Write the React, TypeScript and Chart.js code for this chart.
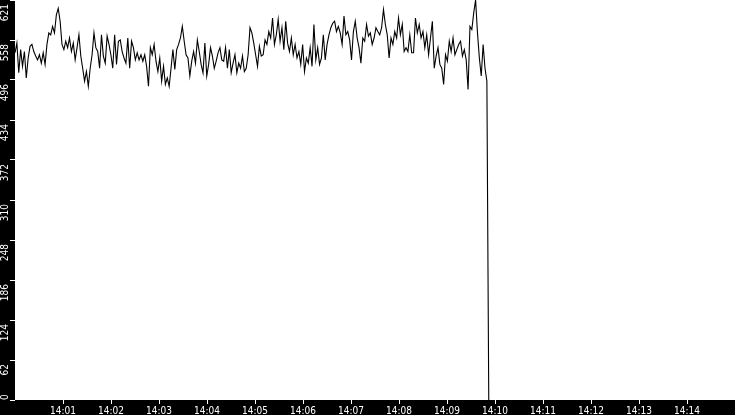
import { useEffect, useRef } from "react";
import { Chart, registerables } from "chart.js";
import type { Plugin } from "chart.js";

Chart.register(...registerables);

// ─── data ────────────────────────────────────────────────────────
const START_HOUR = 14;
const STEP_SEC = 2.35;     // spacing between samples, seconds from 14:00:00
const X_MAX_SEC = 900;     // 14:00 → 14:15
const Y_MAX = 621;
const Y_TICK_COUNT = 10;

const SERIES = [
  539, 554, 508, 544, 518, 541, 500, 531, 549, 552, 541, 534, 528, 536, 523, 539, 521, 552, 570, 567,
  580, 570, 598, 608, 588, 552, 544, 557, 547, 562, 541, 554, 528, 547, 567, 534, 515, 495, 510, 487,
  515, 536, 570, 547,
  541, 515, 567, 534, 523, 565, 552, 536, 515, 567, 521, 557, 559, 541, 531, 523, 562, 515, 557, 547,
  528, 539, 528, 536, 526, 536, 518, 487, 547, 536, 552, 526, 510, 531, 495, 518, 490, 500, 487, 515,
  544,
  513, 544, 552, 562, 580, 557, 536, 531, 503, 526, 541, 523, 559, 541, 521, 508, 554, 503, 521, 547,
  534, 515, 526, 539, 547, 528, 526, 547, 515, 544, 508, 523, 536, 508, 523, 515, 534, 510, 515, 536,
  578, 570, 554,
  536, 518, 549, 534, 536, 559, 552, 572, 562, 593, 552, 567, 591, 557, 578, 544, 588, 554, 541, 562,
  536, 552, 531, 541, 521, 552, 510, 531, 523, 547, 518, 583, 528, 547, 521, 531, 567, 528, 552, 567,
  578, 585,
  588, 572, 580, 570, 552, 596, 567, 572, 559, 528, 572, 588, 562, 547, 523, 562, 557, 583, 565, 570,
  552, 562, 578, 572, 567, 578, 606, 583, 567, 531, 562, 552, 572, 562, 593, 567, 583, 541, 547, 541,
  567, 539,
  539, 593, 570, 583, 562, 572, 547, 567, 536, 562, 588, 515, 534, 547, 521, 515, 490, 536, 526, 557,
  541, 562, 536, 544, 552, 557, 534, 544, 528, 482, 580, 575, 601, 621, 570, 531, 503, 552, 515, 495,
];
const TAIL = [0]; // feed drops out

const FONT = "'DejaVu Sans Condensed', 'DejaVu Sans', Verdana, sans-serif";
const FONT_SIZE = 10;

function timeLabel(sec: number): string {
  const min = Math.round(sec / 60);
  return `${START_HOUR + Math.floor(min / 60)}:${String(min % 60).padStart(2, "0")}`;
}

// black frame behind the axes, white plot area
const framePlugin: Plugin = {
  id: "frame",
  beforeDraw(chart) {
    const { ctx, chartArea: a, width, height } = chart;
    ctx.save();
    ctx.fillStyle = "#000000";
    ctx.fillRect(0, 0, width, height);
    ctx.fillStyle = "#ffffff";
    ctx.fillRect(a.left, a.top, a.right - a.left, a.bottom - a.top);
    ctx.restore();
  },
  // rotated y labels, sitting just under each tick
  afterDraw(chart) {
    const { ctx } = chart;
    const y = chart.scales.y;
    ctx.save();
    ctx.fillStyle = "#ffffff";
    ctx.font = `${FONT_SIZE}px ${FONT}`;
    ctx.textBaseline = "middle";
    y.ticks.forEach((t, i) => {
      const py = y.getPixelForTick(i);
      const label = String(Math.floor(t.value));
      ctx.save();
      if (t.value === 0) {
        ctx.translate(5, py);
        ctx.rotate(-Math.PI / 2);
        ctx.textAlign = "left";
      } else {
        ctx.translate(5, py + 4);
        ctx.rotate(-Math.PI / 2);
        ctx.textAlign = "right";
      }
      ctx.fillText(label, 0, 0);
      ctx.restore();
    });
    ctx.restore();
  },
};

export default function App() {
  const canvasRef = useRef<HTMLCanvasElement>(null);

  useEffect(() => {
    document.body.style.margin = "0";
    if (!canvasRef.current) return;

    const points = SERIES.concat(TAIL).map((v, i) => ({ x: i * STEP_SEC, y: v }));

    const chart = new Chart(canvasRef.current, {
      type: "line",
      data: {
        datasets: [{
          data: points,
          borderColor: "#000000",
          borderWidth: 1.1,
          pointRadius: 0,
          tension: 0,
          fill: false,
        }],
      },
      options: {
        responsive: false,
        animation: false,
        layout: { padding: 0 },
        plugins: { legend: { display: false }, tooltip: { enabled: false } },
        scales: {
          x: {
            type: "linear",
            min: 0,
            max: X_MAX_SEC,
            afterBuildTicks: (s) => {
              const ticks = [];
              for (let sec = 60; sec < X_MAX_SEC; sec += 60) ticks.push({ value: sec });
              s.ticks = ticks;
            },
            afterFit: (s) => { s.height = 15; },
            border: { display: false },
            grid: { drawOnChartArea: false, drawTicks: true, tickLength: 4, tickColor: "#ffffff" },
            ticks: {
              color: "#ffffff",
              font: { family: FONT, size: FONT_SIZE },
              padding: 1,
              autoSkip: false,
              maxRotation: 0,
              callback: (v) => timeLabel(Number(v)),
            },
          },
          y: {
            type: "linear",
            min: 0,
            max: Y_MAX,
            afterBuildTicks: (s) => {
              const ticks = [];
              for (let i = 0; i <= Y_TICK_COUNT; i++) ticks.push({ value: (Y_MAX * i) / Y_TICK_COUNT });
              s.ticks = ticks;
            },
            afterFit: (s) => { s.width = 15; },
            border: { display: false },
            grid: { drawOnChartArea: false, drawTicks: true, tickLength: 5, tickColor: "#ffffff" },
            ticks: { display: false },
          },
        },
      },
      plugins: [framePlugin],
    });

    return () => chart.destroy();
  }, []);

  return (
    <div style={{ width: 735, height: 415 }}>
      <canvas ref={canvasRef} width={735} height={415} style={{ display: "block" }} />
    </div>
  );
}
